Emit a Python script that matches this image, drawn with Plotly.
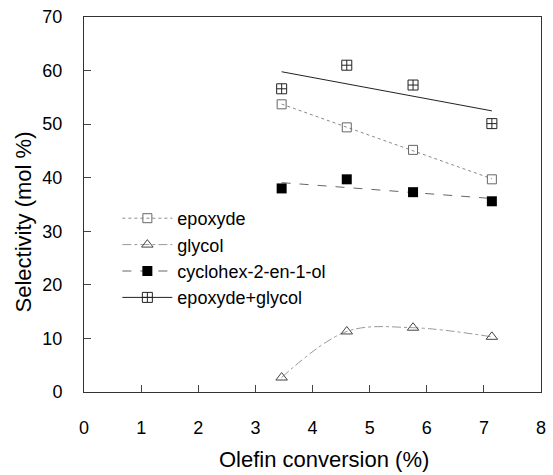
import numpy as np
import plotly.graph_objects as go

conversion = [3.46, 4.60, 5.76, 7.14]
epoxyde = [53.7, 49.4, 45.2, 39.7]
glycol = [2.7, 11.3, 12.0, 10.3]
cyclohexenol = [38.0, 39.7, 37.3, 35.6]
epoxyde_glycol = [56.6, 61.0, 57.3, 50.1]

x_ticks = [0, 1, 2, 3, 4, 5, 6, 7, 8]
y_ticks = [0, 10, 20, 30, 40, 50, 60, 70]

FONT = "Liberation Sans, Arial, Helvetica, sans-serif"
xs = np.array(conversion)


def linfit(y):
    p = np.polyfit(xs, np.array(y), 1)
    xx = np.array([xs.min(), xs.max()])
    return xx, np.polyval(p, xx)


series = [
    ("epoxyde", epoxyde, dict(symbol="square-open", size=9, color="#666", line=dict(width=1, color="#666")),
     dict(color="#888", width=1, dash="dot"), "fit"),
    ("glycol", glycol, dict(symbol="triangle-up-open", size=10, color="#444", line=dict(width=1, color="#444")),
     dict(color="#999", width=1, dash="dashdot"), "spline"),
    ("cyclohex-2-en-1-ol", cyclohexenol, dict(symbol="square", size=10, color="black"),
     dict(color="#666", width=1, dash="dash"), "fit"),
    ("epoxyde+glycol", epoxyde_glycol, dict(symbol="square-cross-open", size=10, color="#222", line=dict(width=1, color="#222")),
     dict(color="#222", width=1, dash="solid"), "fit"),
]

fig = go.Figure()

for name, ys, mk, ln, kind in series:
    if kind == "fit":
        fx, fy = linfit(ys)
        fig.add_trace(go.Scatter(x=fx, y=fy, mode="lines", showlegend=False,
                                 line=ln, hoverinfo="skip"))
    else:
        fig.add_trace(go.Scatter(x=conversion, y=ys, mode="lines", showlegend=False,
                                 line=dict(ln, shape="spline", smoothing=1.0), hoverinfo="skip"))
    fig.add_trace(go.Scatter(x=conversion, y=ys, mode="markers", showlegend=False,
                             marker=mk, name=name))
    # legend sample
    fig.add_trace(go.Scatter(x=[None], y=[None], mode="lines+markers", name=name,
                             marker=mk, line=ln))

fig.update_layout(
    width=553, height=475,
    margin=dict(l=84, r=7, t=15, b=83),
    paper_bgcolor="white", plot_bgcolor="white",
    font=dict(family=FONT, size=18, color="black"),
    showlegend=True,
    legend=dict(x=0.073, y=0.512, xanchor="left", yanchor="top",
                bgcolor="rgba(0,0,0,0)", font=dict(size=18, family=FONT),
                tracegroupgap=0, itemwidth=50),
    xaxis=dict(range=[0, 8], tickvals=x_ticks, ticks="inside", ticklen=7,
               tickcolor="#444", showline=True, linecolor="#333", linewidth=1,
               mirror=True, showgrid=False, zeroline=False,
               tickfont=dict(size=18), ticklabelstandoff=19),
    yaxis=dict(range=[0, 70], tickvals=y_ticks, ticks="inside", ticklen=7,
               tickcolor="#444", showline=True, linecolor="#333", linewidth=1,
               mirror=True, showgrid=False, zeroline=False,
               tickfont=dict(size=18), ticklabelstandoff=17),
    annotations=[
        dict(text="Olefin conversion (%)", xref="paper", yref="paper",
             x=0.526, y=-0.18, xanchor="center", yanchor="middle",
             showarrow=False, font=dict(size=22, family=FONT)),
        dict(text="Selectivity (mol %)", xref="paper", yref="paper",
             x=-0.132, y=0.454, xanchor="center", yanchor="middle", textangle=-90,
             showarrow=False, font=dict(size=22, family=FONT)),
    ],
)

fig.write_html("out.html")
